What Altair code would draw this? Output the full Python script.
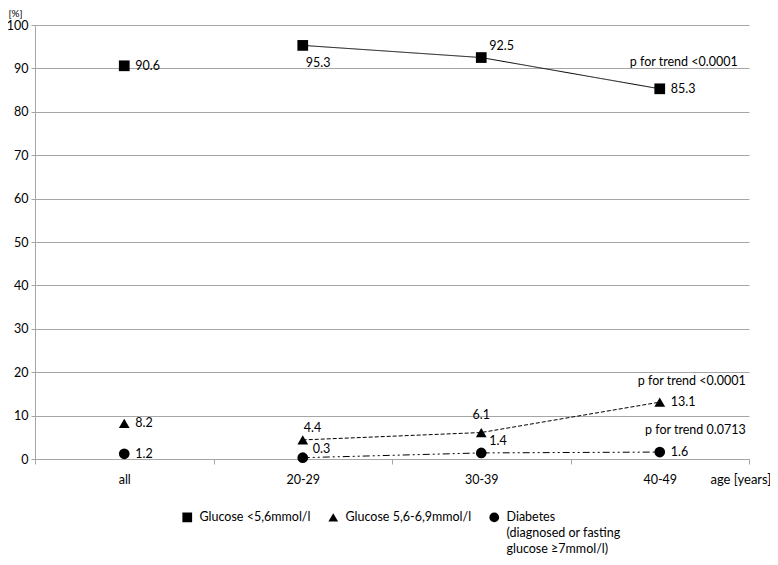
import altair as alt
import pandas as pd

categories = ["all", "20-29", "30-39", "40-49"]
series_names = ["Glucose <5,6mmol/l", "Glucose 5,6-6,9mmol/l", "Diabetes"]
diabetes_note = ["(diagnosed or fasting", "glucose \u22657mmol/l)"]
glucose_normal = [90.6, 95.3, 92.5, 85.3]
glucose_impaired = [8.2, 4.4, 6.1, 13.1]
diabetes = [1.2, 0.3, 1.4, 1.6]
p_trend = ["p for trend <0.0001", "p for trend <0.0001", "p for trend 0.0713"]
y_ticks = [0, 10, 20, 30, 40, 50, 60, 70, 80, 90, 100]

# label placement keys per point (style, not data)
label_place = [
    ["right", "below", "above_right", "right"],
    ["right", "above_left", "above", "right"],
    ["right", "above_right2", "above_right", "right"],
]
place_style = {
    "right": dict(dx=11, dy=0, align="left"),
    "below": dict(dx=3, dy=18, align="left"),
    "above_right": dict(dx=8, dy=-12, align="left"),
    "above_right2": dict(dx=10, dy=-9, align="left"),
    "above_left": dict(dx=1, dy=-12, align="left"),
    "above": dict(dx=0, dy=-18, align="center"),
}
p_style = [dict(dx=78, dy=-27), dict(dx=86, dy=-21), dict(dx=86, dy=-22)]
line_dash = [[1, 0], [4, 2], [7, 3, 2, 3, 2, 3]]

FONT = "Lato"
FS = 12.5
GRID = "#a6a6a6"

rows = []
for s, vals, places in zip(series_names, [glucose_normal, glucose_impaired, diabetes], label_place):
    for c, v, p in zip(categories, vals, places):
        rows.append({"category": c, "series": s, "value": v, "place": p})
df = pd.DataFrame(rows)

ptrend_df = pd.DataFrame({
    "category": [categories[-1]] * 3,
    "series": series_names,
    "value": [glucose_normal[-1], glucose_impaired[-1], diabetes[-1]],
    "text": p_trend,
})

# all legend labels get the same number of lines so that the entries align on the first line
label_expr = (
    "datum.label == '" + series_names[2] + "' ? ['" + series_names[2] + "', '"
    + diabetes_note[0] + "', '" + diabetes_note[1] + "'] : [datum.label, ' ', ' ']"
)

x_enc = alt.X(
    "category:N",
    sort=categories,
    bandPosition=0.5,
    scale=alt.Scale(type="band", domain=categories, paddingInner=0, paddingOuter=0),
    axis=alt.Axis(
        title="age [years]",
        titleX=675, titleY=14, titleAlign="left", titleBaseline="top",
        titleFontWeight="normal", titleFont=FONT, titleFontSize=13, titleColor="black",
        labelAngle=0, labelPadding=9, labelFont=FONT, labelFontSize=FS, labelColor="black",
        domainColor=GRID, tickColor=GRID, tickSize=5, tickBand="extent", grid=False,
    ),
)
y_enc = alt.Y(
    "value:Q",
    scale=alt.Scale(domain=[0, 100], nice=False, zero=True),
    axis=alt.Axis(
        title="[%]", titleAngle=0, titleAlign="left", titleBaseline="alphabetic",
        titleX=-27, titleY=-9, titleFontWeight="normal", titleFont=FONT,
        titleFontSize=10, titleColor="black",
        values=y_ticks, grid=True, gridColor=GRID, domainColor=GRID, tickColor=GRID,
        tickSize=4, labelPadding=3, labelFont=FONT, labelFontSize=FS, labelColor="black",
    ),
)

base = alt.Chart(df)

line_layers = []
for s, dash in zip(series_names, line_dash):
    line_layers.append(
        base.transform_filter(
            (alt.datum.category != categories[0]) & (alt.datum.series == s)
        ).mark_line(color="black", strokeWidth=1, strokeDash=dash).encode(x=x_enc, y=y_enc)
    )

points = base.mark_point(filled=True, color="black", size=115, opacity=1).encode(
    x=x_enc,
    y=y_enc,
    shape=alt.Shape(
        "series:N",
        scale=alt.Scale(domain=series_names, range=["square", "triangle-up", "circle"]),
        legend=alt.Legend(
            title=None, orient="none", legendX=146, legendY=486,
            direction="horizontal", columnPadding=16, symbolSize=95,
            symbolFillColor="black", symbolStrokeColor="black", symbolStrokeWidth=0,
            labelOffset=6, labelFont=FONT, labelFontSize=FS, labelColor="black",
            labelBaseline="middle", labelLimit=400, labelExpr=label_expr, padding=0,
        ),
    ),
)

label_layers = []
for key, st in place_style.items():
    label_layers.append(
        base.transform_filter(alt.datum.place == key).mark_text(
            font=FONT, fontSize=FS, color="black", baseline="middle", **st
        ).encode(x=x_enc, y=y_enc, text=alt.Text("value:Q", format=".1f"))
    )

p_layers = []
for i, st in enumerate(p_style):
    p_layers.append(
        alt.Chart(ptrend_df.iloc[[i]]).mark_text(
            font=FONT, fontSize=FS, color="black", baseline="middle", align="right", **st
        ).encode(x=x_enc, y=y_enc, text="text:N")
    )

chart = alt.layer(*line_layers, points, *label_layers, *p_layers).properties(
    width=714,
    height=434,
    autosize=alt.AutoSizeParams(type="none"),
    padding={"left": 27, "top": 17, "right": 21, "bottom": 98},
).configure(
    font=FONT,
    style={"guide-label": {"lineHeight": 16}},
).configure_view(stroke=None)

chart.save("out.html", embed_options={"renderer": "svg", "actions": False})
